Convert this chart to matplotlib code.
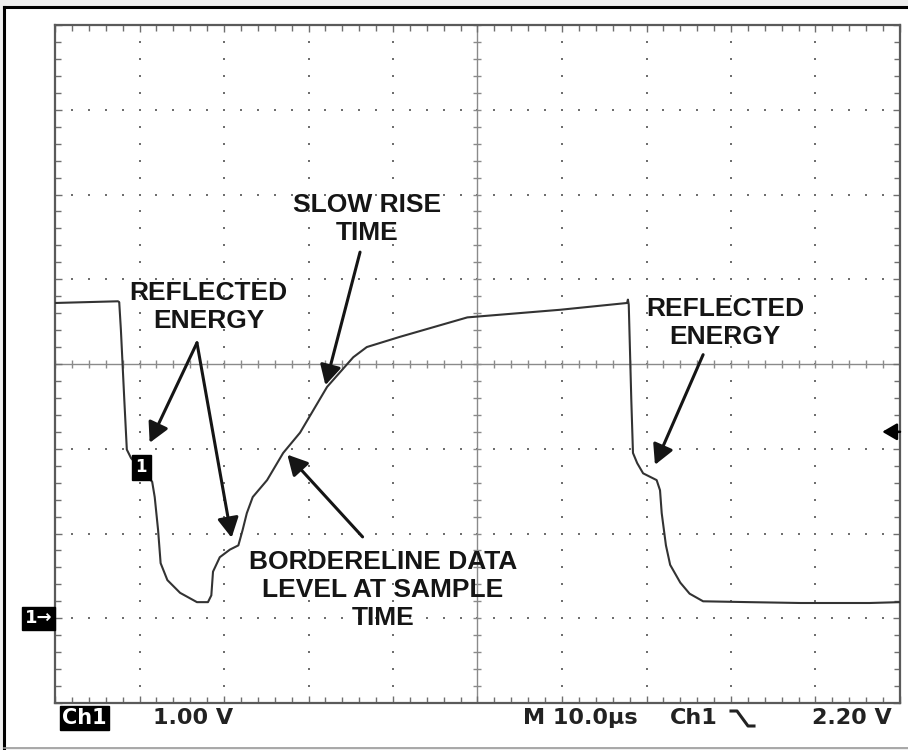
import numpy as np
import matplotlib
matplotlib.use("Agg")
import matplotlib.pyplot as plt
from matplotlib.patches import Rectangle
from matplotlib.lines import Line2D

# scope settings
VOLTS_PER_DIV = 1.00
TIME_PER_DIV_US = 10.0
TRIGGER_LEVEL_V = 2.20

# captured trace: time (us) and level (V, relative to ground marker)
trace_time_us = [
    0.0, 7.45, 7.6, 7.8, 8.2, 8.5, 9.0, 11.0, 11.5, 11.8, 12.2, 12.5, 13.3,
    14.8, 16.8, 18.1, 18.5, 18.7, 19.5, 20.7, 21.7, 22.2, 22.7, 23.4, 25.1,
    27.0, 29.0, 32.2, 35.3, 36.9, 40.8, 48.8, 59.8, 67.7, 67.8, 67.9, 68.2,
    68.4, 68.9, 69.6, 71.2, 71.6, 71.8, 72.3, 72.8, 74.0, 75.1, 76.7, 82.2,
    88.2, 96.4, 100.0,
]
trace_volts = [
    3.72, 3.74, 3.73, 3.40, 2.58, 1.99, 1.89, 1.67, 1.61, 1.43, 1.04, 0.65,
    0.45, 0.30, 0.19, 0.19, 0.27, 0.55, 0.72, 0.81, 0.86, 1.04, 1.24, 1.43,
    1.63, 1.95, 2.19, 2.73, 3.08, 3.20, 3.32, 3.55, 3.64, 3.72, 3.76, 3.70,
    2.58, 1.95, 1.83, 1.71, 1.63, 1.51, 1.24, 0.86, 0.63, 0.42, 0.29, 0.20,
    0.19, 0.18, 0.18, 0.19,
]

# callouts: text, text centre (us, V), list of arrow (tail, tip)
callouts = [
    ("REFLECTED\nENERGY", (18.2, 3.67),
     [((16.8, 3.25), (11.2, 2.07)), ((16.8, 3.25), (20.9, 0.95))]),
    ("SLOW RISE\nTIME", (36.9, 4.71), [((36.1, 4.32), (32.0, 2.75))]),
    ("BORDERELINE DATA\nLEVEL AT SAMPLE\nTIME", (38.8, 0.33),
     [((36.4, 0.96), (27.5, 1.93))]),
    ("REFLECTED\nENERGY", (79.3, 3.48), [((76.7, 3.11), (71.0, 1.81))]),
]

W, H = 908, 750
fig = plt.figure(figsize=(W / 100, H / 100), dpi=100, facecolor="#efefef")

# white panel with the screenshot border
fig.patches.append(Rectangle((4 / W, 2 / H), 1.0, 1 - 9 / H,
                             transform=fig.transFigure, facecolor="white",
                             edgecolor="none", zorder=-5))
fig.add_artist(Line2D([4 / W, 1], [1 - 7 / H, 1 - 7 / H], color="black", lw=2.2))
fig.add_artist(Line2D([4 / W, 4 / W], [2 / H, 1 - 7 / H], color="black", lw=2.2))
fig.add_artist(Line2D([4 / W, 1], [2 / H, 2 / H], color="#9a9a9a", lw=1.2))

ax = fig.add_axes([55 / W, 1 - 703 / H, 845 / W, 678 / H])
ax.set_zorder(2)
ax.set_facecolor("white")
x0, x1 = 0, 10 * TIME_PER_DIV_US
y0, y1 = -1 * VOLTS_PER_DIV, 7 * VOLTS_PER_DIV
ax.set_xlim(x0, x1)
ax.set_ylim(y0, y1)

grid_col = "#6f6f6f"
for s in ax.spines.values():
    s.set_color("#5a5a5a")
    s.set_linewidth(1.6)
ax.set_xticks(np.arange(x0, x1 + 0.01, TIME_PER_DIV_US))
ax.set_yticks(np.arange(y0, y1 + 0.01, VOLTS_PER_DIV))
ax.set_xticks(np.arange(x0, x1 + 0.01, TIME_PER_DIV_US / 5), minor=True)
ax.set_yticks(np.arange(y0, y1 + 0.01, VOLTS_PER_DIV / 5), minor=True)
ax.tick_params(which="both", direction="in", top=True, right=True,
               labelbottom=False, labelleft=False, color=grid_col, width=1.0)
ax.tick_params(which="major", length=5)
ax.tick_params(which="minor", length=4)

# dotted graticule
xc = (x0 + x1) / 2
yc = (y0 + y1) / 2
fine_y = np.arange(y0, y1 + 0.01, VOLTS_PER_DIV / 5)
fine_x = np.arange(x0, x1 + 0.01, TIME_PER_DIV_US / 5)
for gx in np.arange(x0 + TIME_PER_DIV_US, x1, TIME_PER_DIV_US):
    if abs(gx - xc) < 1e-6:
        continue
    ax.scatter(np.full_like(fine_y, gx), fine_y, s=2.5, marker="s",
               color=grid_col, linewidths=0, zorder=1)
for gy in np.arange(y0 + VOLTS_PER_DIV, y1, VOLTS_PER_DIV):
    if abs(gy - yc) < 1e-6:
        continue
    ax.scatter(fine_x, np.full_like(fine_x, gy), s=2.5, marker="s",
               color=grid_col, linewidths=0, zorder=1)

# centre crosshair with ticks
ax.axhline(yc, color="#8a8a8a", lw=1.0, zorder=1)
ax.axvline(xc, color="#8a8a8a", lw=1.0, zorder=1)
ax.scatter(fine_x, np.full_like(fine_x, yc), marker="|", s=30,
           color="#8a8a8a", linewidths=1.0, zorder=1)
ax.scatter(np.full_like(fine_y, xc), fine_y, marker="_", s=30,
           color="#8a8a8a", linewidths=1.0, zorder=1)

# the trace
ax.plot(trace_time_us, trace_volts, color="#333333", lw=1.5, zorder=3)

# callouts
for label, (tx, ty), arrows in callouts:
    ax.text(tx, ty, label, ha="center", va="center", fontsize=19,
            fontweight="bold", family=["Liberation Sans", "DejaVu Sans"],
            color="#151515", linespacing=1.22, zorder=5)
    for tail, tip in arrows:
        ax.annotate("", xy=tip, xytext=tail,
                    arrowprops=dict(arrowstyle="-|>,head_length=0.6,head_width=0.32",
                                    color="#151515", lw=2.2, mutation_scale=20,
                                    shrinkA=0, shrinkB=0), zorder=5)

# trigger point marker on the trace
ax.text(10.2, 1.78, "1", ha="center", va="center", fontsize=12,
        fontweight="bold", color="white", zorder=6,
        bbox=dict(boxstyle="square,pad=0.22", fc="black", ec="black"))

# ground marker (left) and trigger level marker (right)
ax.text(-0.3, 0.0, "1\u2192", ha="right", va="center", fontsize=13,
        fontweight="bold", color="white", clip_on=False, zorder=6,
        bbox=dict(boxstyle="square,pad=0.15", fc="black", ec="black"))
ax.annotate("", xy=(x1 - 2.1, TRIGGER_LEVEL_V), xytext=(x1, TRIGGER_LEVEL_V),
            arrowprops=dict(arrowstyle="-|>,head_length=0.55,head_width=0.32",
                            color="black", lw=1.8, mutation_scale=16,
                            shrinkA=0, shrinkB=0), zorder=6)

# status line
ty = 1 - 718 / H
status_font = dict(fontsize=16, fontweight="bold", color="#222222",
                   va="center", family="DejaVu Sans")
fig.text(62 / W, ty, "Ch1", ha="left", fontsize=15, fontweight="bold",
         color="white", va="center", family="DejaVu Sans",
         bbox=dict(boxstyle="square,pad=0.1", fc="black", ec="black"))
fig.text(153 / W, ty, "%.2f V" % VOLTS_PER_DIV, ha="left", **status_font)
fig.text(523 / W, ty, "M %.1f\u00b5s" % TIME_PER_DIV_US, ha="left", **status_font)
fig.text(670 / W, ty, "Ch1", ha="left", **status_font)
# falling-edge trigger glyph
fig.add_artist(Line2D(np.array([731, 737, 748, 754]) / W,
                      1 - np.array([711, 711, 726, 726]) / H,
                      color="#222222", lw=2.2))
fig.text(892 / W, ty, "%.2f V" % TRIGGER_LEVEL_V, ha="right", **status_font)

fig.savefig("out.png", dpi=100, facecolor=fig.get_facecolor())
